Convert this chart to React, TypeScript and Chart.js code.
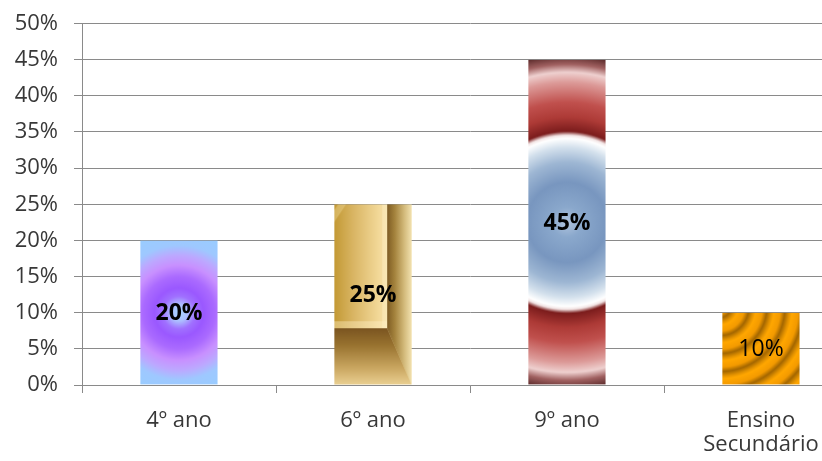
import React, { useEffect, useRef } from "react";
import { Chart, registerables } from "chart.js";

Chart.register(...registerables);

// ---- data ----
const categories: string[][] = [["4º ano"], ["6º ano"], ["9º ano"], ["Ensino", "Secundário"]];
const values: number[] = [20, 25, 45, 10];
const yMin = 0;
const yMax = 50;
const yStep = 5;
const labelWeights: string[] = ["bold", "bold", "bold", "normal"];

const FONT = '"Open Sans", "DejaVu Sans", sans-serif';
const GRID = "#8a8a8a";
const BAR_PCT = 0.4;

type Painter = (g: CanvasRenderingContext2D, w: number, h: number) => void;

const paintLavender: Painter = (g, w, h) => {
  const cx = w / 2, cy = h / 2;
  const R = Math.hypot(w / 2, h / 2);
  const rg = g.createRadialGradient(cx, cy, 0, cx, cy, R);
  rg.addColorStop(0, "#a8d4ff");
  rg.addColorStop(0.1, "#acc0ff");
  rg.addColorStop(0.2, "#a070ff");
  rg.addColorStop(0.3, "#9a58ff");
  rg.addColorStop(0.44, "#aa6aff");
  rg.addColorStop(0.58, "#c890ff");
  rg.addColorStop(0.7, "#bca8ff");
  rg.addColorStop(0.82, "#9ec8ff");
  rg.addColorStop(1, "#99ccff");
  g.fillStyle = rg;
  g.fillRect(0, 0, w, h);
};

const paintGold: Painter = (g, w, h) => {
  const ix = Math.round(w * 0.68);
  const iy = Math.round(h * 0.685);
  let lg = g.createLinearGradient(0, 0, ix, 0);
  lg.addColorStop(0, "#c39934");
  lg.addColorStop(0.35, "#d8b462");
  lg.addColorStop(0.85, "#f3d999");
  lg.addColorStop(1, "#f6e1a6");
  g.fillStyle = lg;
  g.fillRect(0, 0, w, h);
  // subtle top-left diagonal highlight
  g.beginPath();
  g.moveTo(4, 0);
  g.lineTo(12, 0);
  g.lineTo(0, 18);
  g.lineTo(0, 6);
  g.closePath();
  g.fillStyle = "rgba(245,225,165,0.35)";
  g.fill();
  // inner bevel light lines
  g.fillStyle = "rgba(255,240,200,0.4)";
  g.fillRect(0, iy - 7, ix, 7);
  g.fillRect(ix - 5, 0, 5, iy);
  // right strip
  g.beginPath();
  g.moveTo(ix, 0);
  g.lineTo(w, 0);
  g.lineTo(w, h);
  g.lineTo(ix, iy);
  g.closePath();
  lg = g.createLinearGradient(ix, 0, w, 0);
  lg.addColorStop(0, "#7e5c24");
  lg.addColorStop(0.3, "#a3823c");
  lg.addColorStop(0.7, "#d4bb7c");
  lg.addColorStop(1, "#f2e2b0");
  g.fillStyle = lg;
  g.fill();
  // bottom strip
  g.beginPath();
  g.moveTo(0, iy);
  g.lineTo(ix, iy);
  g.lineTo(w, h);
  g.lineTo(0, h);
  g.closePath();
  lg = g.createLinearGradient(0, iy, 0, h);
  lg.addColorStop(0, "#7a5420");
  lg.addColorStop(0.3, "#98722f");
  lg.addColorStop(0.7, "#c9a660");
  lg.addColorStop(1, "#ead092");
  g.fillStyle = lg;
  g.fill();
};

const paintRedBlue: Painter = (g, w, h) => {
  const cx = w / 2, cy = h / 2;
  const R = Math.hypot(w / 2, h / 2);
  const rg = g.createRadialGradient(cx, cy, 0, cx, cy, R);
  const s = (px: number) => Math.min(1, px / R);
  rg.addColorStop(0, "#b0c4de");
  rg.addColorStop(s(15), "#8aa8cc");
  rg.addColorStop(s(40), "#7896bf");
  rg.addColorStop(s(60), "#9db6d3");
  rg.addColorStop(s(75), "#d3e0ec");
  rg.addColorStop(s(84), "#ffffff");
  rg.addColorStop(s(87), "#f2e4e4");
  rg.addColorStop(s(91), "#7b1c1c");
  rg.addColorStop(s(105), "#ad3a36");
  rg.addColorStop(s(120), "#c0504d");
  rg.addColorStop(s(140), "#dc9a98");
  rg.addColorStop(s(150), "#eed0cf");
  rg.addColorStop(s(158), "#a06060");
  rg.addColorStop(1, "#5a2a2a");
  g.fillStyle = rg;
  g.fillRect(0, 0, w, h);
};

const paintOrange: Painter = (g, w, h) => {
  const cx = -2, cy = -6;
  const R = Math.hypot(w + 4, h + 8) + 10;
  const rg = g.createRadialGradient(cx, cy, 0, cx, cy, R);
  const period = 18;
  for (let r = 0; r <= R; r += period) {
    const a = r / R;
    const b = Math.min(1, (r + period * 0.35) / R);
    const c = Math.min(1, (r + period * 0.6) / R);
    const d = Math.min(1, (r + period * 0.85) / R);
    rg.addColorStop(a, "#ffa600");
    rg.addColorStop(b, "#f39a00");
    rg.addColorStop(c, "#a36600");
    rg.addColorStop(d, "#e39200");
  }
  g.fillStyle = rg;
  g.fillRect(0, 0, w, h);
};

const painters: Painter[] = [paintLavender, paintGold, paintRedBlue, paintOrange];

function barFill(chart: any, index: number | undefined): any {
  if (index === undefined || index === null) return "#999";
  const xs = chart.scales?.x;
  const ys = chart.scales?.y;
  if (!xs || !ys || !xs.width || !ys.height) return "#999";
  const cat = xs.width / categories.length;
  const w = cat * BAR_PCT;
  const cx = xs.getPixelForValue(index);
  const top = ys.getPixelForValue(values[index]);
  const bottom = ys.getPixelForValue(0);
  const left = cx - w / 2;
  const h = bottom - top;
  const off = document.createElement("canvas");
  off.width = Math.max(1, Math.ceil(w) + 2);
  off.height = Math.max(1, Math.ceil(h) + 2);
  const g = off.getContext("2d")!;
  painters[index](g, w, h);
  const pat = chart.ctx.createPattern(off, "no-repeat");
  if (!pat) return "#999";
  pat.setTransform(new DOMMatrix([1, 0, 0, 1, left, top]));
  return pat;
}

const labelPlugin = {
  id: "barLabels",
  afterDatasetsDraw(chart: any) {
    const meta = chart.getDatasetMeta(0);
    const c = chart.ctx as CanvasRenderingContext2D;
    meta.data.forEach((bar: any, i: number) => {
      const { x, y, base } = bar.getProps(["x", "y", "base"], true);
      c.save();
      c.font = `${labelWeights[i]} 23px ${FONT}`;
      c.fillStyle = "#000";
      c.textAlign = "center";
      c.textBaseline = "middle";
      c.fillText(values[i] + "%", x, (y + base) / 2 + 1);
      c.restore();
    });
  },
};

export default function App() {
  const ref = useRef<HTMLCanvasElement | null>(null);
  useEffect(() => {
    if (!ref.current) return;
    const chart = new Chart(ref.current, {
      type: "bar",
      data: {
        labels: categories,
        datasets: [
          {
            data: values,
            backgroundColor: (ctx: any) => barFill(ctx.chart, ctx.dataIndex),
            borderWidth: 0,
            categoryPercentage: 1,
            barPercentage: BAR_PCT,
          },
        ],
      },
      options: {
        animation: false,
        responsive: true,
        maintainAspectRatio: false,
        layout: { padding: { left: 0, right: 12, top: 23.5, bottom: 0 } },
        plugins: { legend: { display: false }, tooltip: { enabled: false } },
        scales: {
          x: {
            afterFit: (s: any) => {
              s.height = 76;
            },
            grid: {
              display: true,
              drawOnChartArea: false,
              drawTicks: true,
              tickLength: 8,
              offset: true,
              color: GRID,
            },
            border: { display: true, color: GRID },
            ticks: {
              color: "#383838",
              font: { family: FONT, size: 22, lineHeight: 1.12 },
              padding: 15,
              maxRotation: 0,
              autoSkip: false,
            },
          },
          y: {
            min: yMin,
            max: yMax,
            afterFit: (s: any) => {
              s.width = 82;
              s.paddingTop = 0;
              s.paddingBottom = 0;
            },
            grid: { color: GRID, tickLength: 8, drawTicks: true },
            border: { display: true, color: GRID },
            ticks: {
              stepSize: yStep,
              color: "#383838",
              font: { family: FONT, size: 22 },
              padding: 16,
              callback: (v: any) => v + "%",
            },
          },
        },
      },
      plugins: [labelPlugin],
    });
    return () => chart.destroy();
  }, []);
  return (
    <div
      style={{
        position: "fixed",
        left: 0,
        top: 0,
        width: 822,
        height: 461,
        overflow: "hidden",
        background: "#fff",
      }}
    >
      <div style={{ position: "relative", width: 870, height: 461 }}>
        <canvas ref={ref} />
      </div>
    </div>
  );
}
